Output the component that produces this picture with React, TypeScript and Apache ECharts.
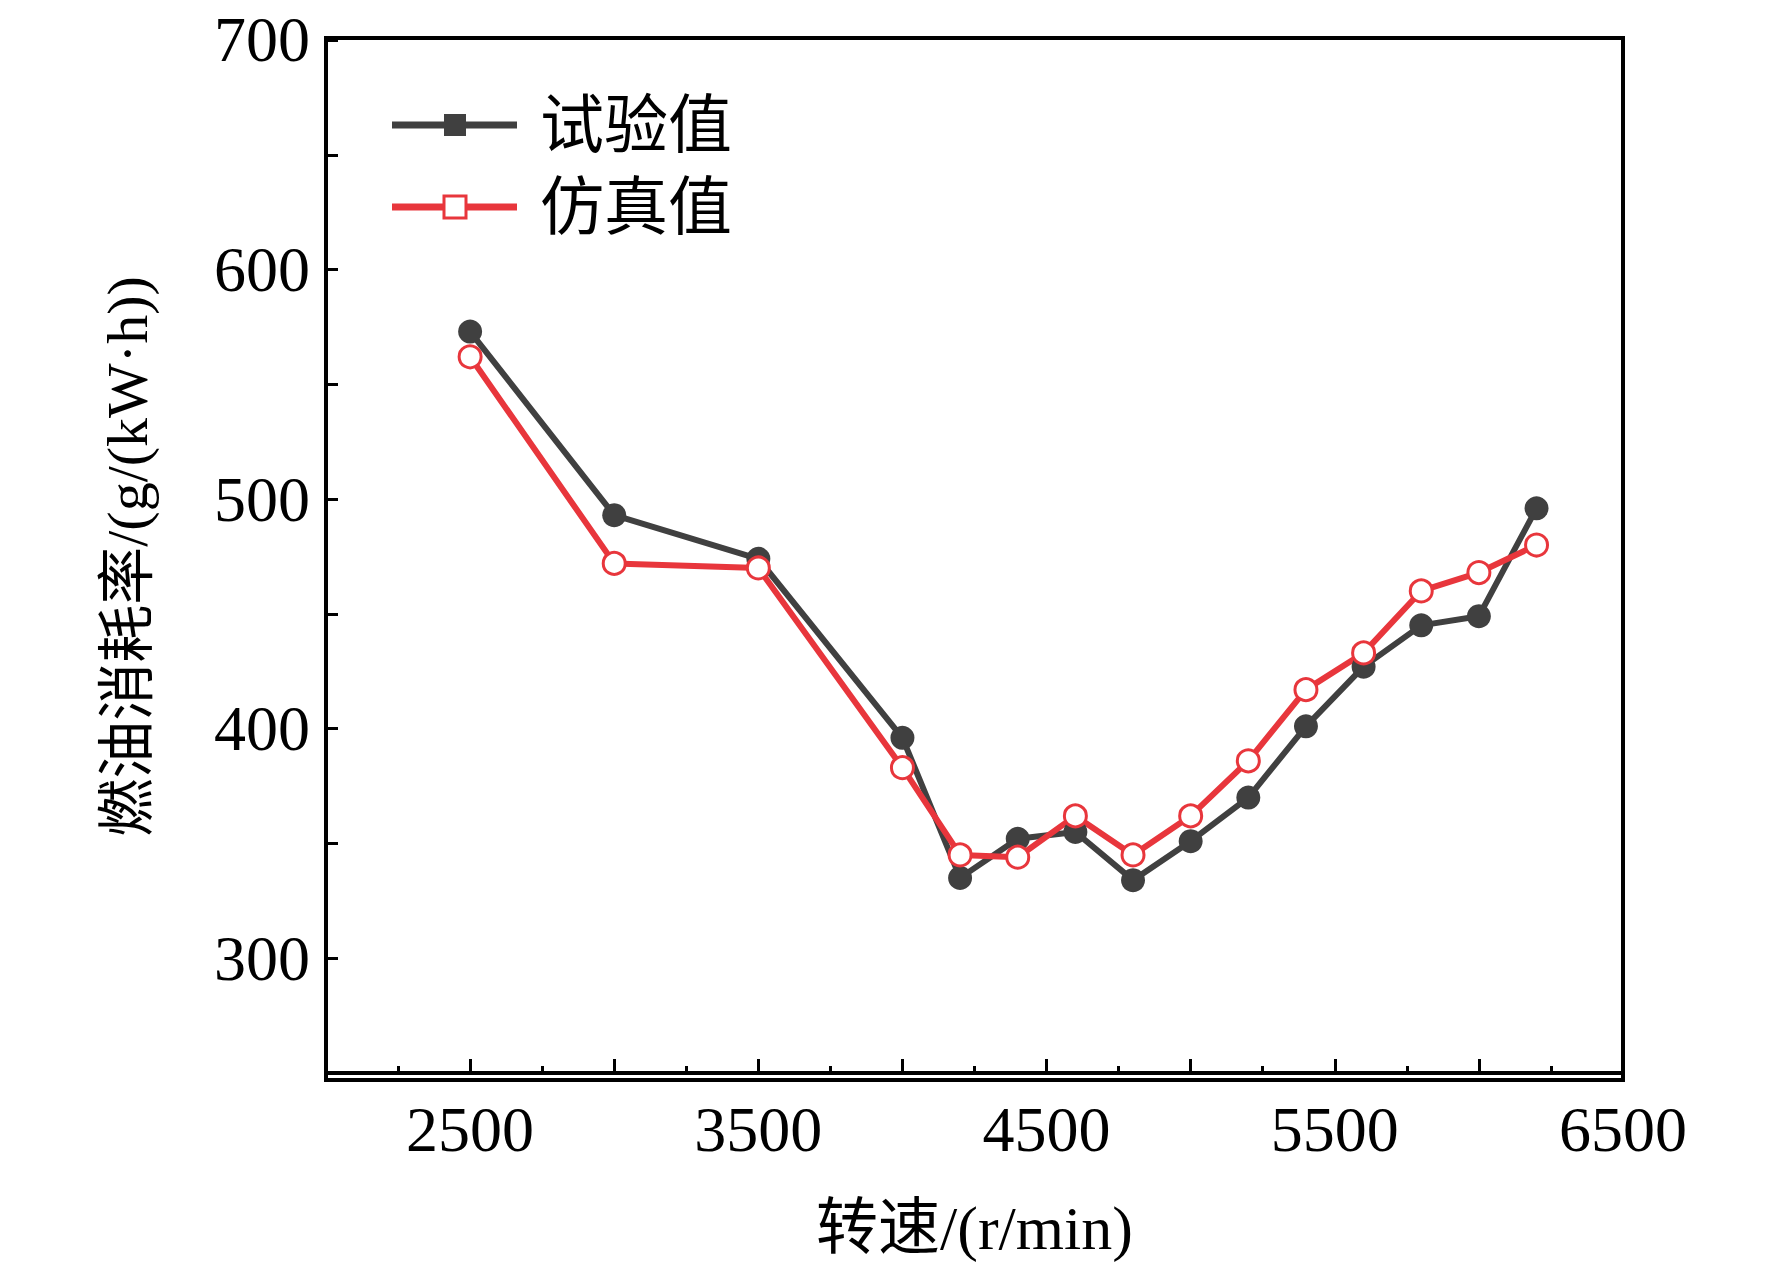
import { useEffect, useRef } from 'react';
import * as echarts from 'echarts';

const speeds = [2500, 3000, 3500, 4000, 4200, 4400, 4600, 4800, 5000, 5200, 5400, 5600, 5800, 6000, 6200];
const testValues = [573, 493, 474, 396, 335, 352, 355, 334, 351, 370, 401, 427, 445, 449, 496];
const simValues = [562, 472, 470, 383, 345, 344, 362, 345, 362, 386, 417, 433, 460, 468, 480];

const FONT = '"Liberation Serif", "Noto Sans CJK SC", serif';
const BLACK = '#404040';
const RED = '#e8363c';

export default function App() {
  const chartRef = useRef<HTMLDivElement>(null);

  useEffect(() => {
    if (!chartRef.current) return;
    const chart = echarts.init(chartRef.current, null, { renderer: 'svg' });

    const option = {
      animation: false,
      backgroundColor: '#fff',
      grid: { left: 318, right: 141, top: 30, bottom: 184 },
      xAxis: {
        type: 'value',
        min: 2000,
        max: 6500,
        interval: 500,
        name: '转速/(r/min)',
        nameLocation: 'middle',
        nameGap: 124,
        nameTextStyle: { fontFamily: FONT, fontSize: 62, color: '#000' },
        axisLine: { onZero: false, lineStyle: { color: '#000', width: 4 } },
        axisTick: { inside: true, length: 14, lineStyle: { color: '#000', width: 3 } },
        minorTick: { show: true, splitNumber: 2, length: 7, lineStyle: { color: '#000', width: 3 } },
        axisLabel: {
          margin: 24,
          fontFamily: FONT,
          fontSize: 64,
          color: '#000',
          formatter: (v: number) => (v % 1000 === 500 ? String(v) : ''),
        },
        splitLine: { show: false },
      },
      yAxis: {
        type: 'value',
        min: 250,
        max: 700,
        interval: 50,
        name: '燃油消耗率/(g/(kW·h))',
        nameLocation: 'middle',
        nameGap: 170,
        nameTextStyle: { fontFamily: FONT, fontSize: 58, color: '#000' },
        axisLine: { onZero: false, lineStyle: { color: '#000', width: 4 } },
        axisTick: { inside: true, length: 12, lineStyle: { color: '#000', width: 3 } },
        axisLabel: {
          margin: 16,
          fontFamily: FONT,
          fontSize: 64,
          color: '#000',
          formatter: (v: number) => (v % 100 === 0 ? String(v) : ''),
        },
        splitLine: { show: false },
      },
      graphic: [
        {
          type: 'rect',
          shape: { x: 318, y: 30, width: 1756 - 318 - 141, height: 1256 - 30 - 184 },
          style: { fill: 'none', stroke: '#000', lineWidth: 4 },
          silent: true,
        },
        { type: 'line', shape: { x1: 384, y1: 117, x2: 509, y2: 117 }, style: { stroke: BLACK, lineWidth: 7 } },
        { type: 'rect', shape: { x: 436, y: 106, width: 22, height: 22 }, style: { fill: BLACK } },
        { type: 'text', style: { x: 532, y: 117, text: '试验值', font: `64px ${FONT}`, fill: '#000', verticalAlign: 'middle' } },
        { type: 'line', shape: { x1: 384, y1: 199, x2: 509, y2: 199 }, style: { stroke: RED, lineWidth: 7 } },
        { type: 'rect', shape: { x: 436, y: 188, width: 22, height: 22 }, style: { fill: '#fff', stroke: RED, lineWidth: 3 } },
        { type: 'text', style: { x: 532, y: 199, text: '仿真值', font: `64px ${FONT}`, fill: '#000', verticalAlign: 'middle' } },
      ],
      series: [
        {
          name: '试验值',
          type: 'line',
          data: speeds.map((s, i) => [s, testValues[i]]),
          symbol: 'circle',
          symbolSize: 24,
          itemStyle: { color: BLACK },
          lineStyle: { color: BLACK, width: 6 },
        },
        {
          name: '仿真值',
          type: 'line',
          data: speeds.map((s, i) => [s, simValues[i]]),
          symbol: 'circle',
          symbolSize: 22,
          itemStyle: { color: '#fff', borderColor: RED, borderWidth: 3 },
          lineStyle: { color: RED, width: 6 },
        },
      ],
    };

    chart.setOption(option);
    return () => chart.dispose();
  }, []);

  return <div ref={chartRef} style={{ width: 1756, height: 1256 }} />;
}
